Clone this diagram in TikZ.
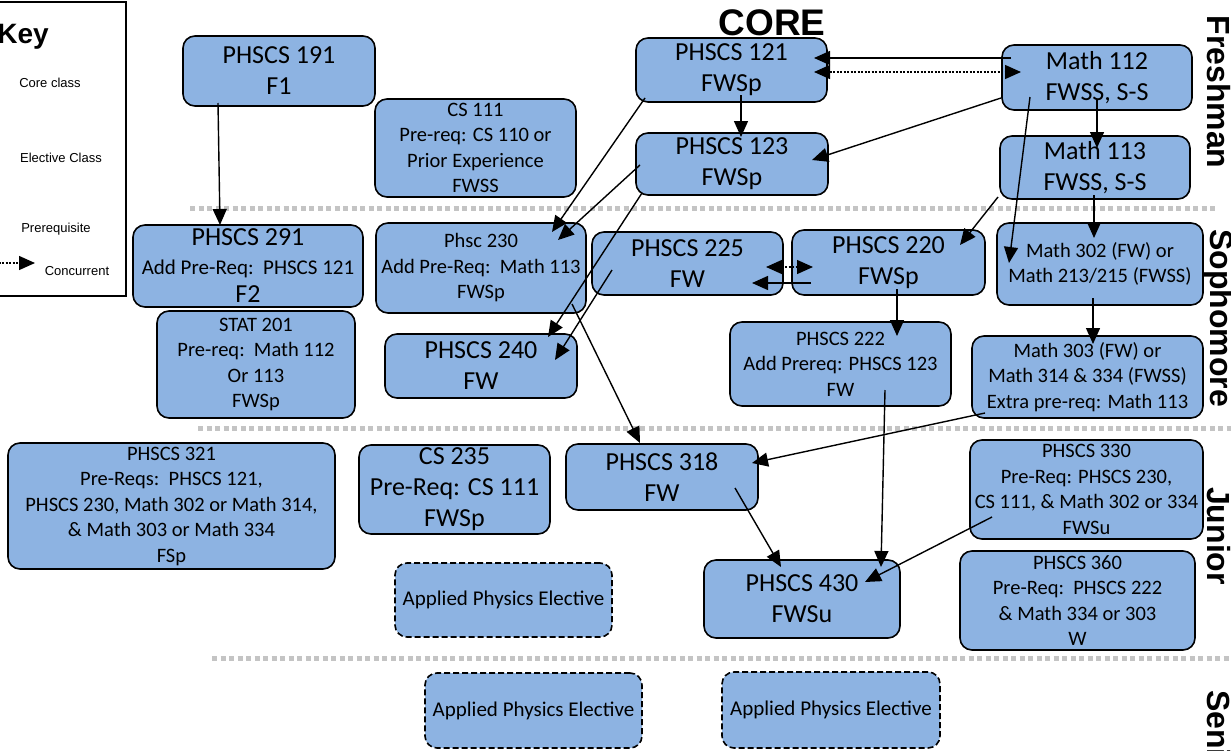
\documentclass[tikz,border=0pt]{standalone}
\usepackage{fontspec}
\setmainfont{Carlito}
\newfontfamily\arialf{Liberation Sans}
\usetikzlibrary{arrows.meta,calc}
\definecolor{boxblue}{HTML}{8DB3E2}
\definecolor{sepgrey}{HTML}{C4C4C4}
\begin{document}
\begin{tikzpicture}[x=1pt,y=-1pt,
 box/.style={draw, line width=1.6pt, fill=boxblue, rounded corners=12pt, align=center, inner sep=0pt},
 big/.style={font=\fontsize{26}{31}\selectfont},
 small/.style={font=\fontsize{20.5}{25.5}\selectfont},
 elect/.style={box, dash pattern=on 6pt off 3pt, font=\fontsize{21}{25}\selectfont},
 arr/.style={line width=1.4pt, -{Triangle[length=16pt,width=14pt]}},
 conc/.style={line width=1.4pt, dash pattern=on 2pt off 1.5pt, {Triangle[length=16pt,width=14pt]}-{Triangle[length=16pt,width=14pt]}},
 conckey/.style={line width=1.4pt, dash pattern=on 2pt off 1.5pt, -{Triangle[length=16pt,width=14pt]}},
 sep/.style={sepgrey, line width=5pt, dash pattern=on 5pt off 3.5pt},
 yearlab/.style={font=\arialf\bfseries\fontsize{32}{32}\selectfont, rotate=-90, inner sep=0pt},
 keytxt/.style={font=\arialf\fontsize{13}{15}\selectfont, inner sep=0pt}
]
\useasboundingbox (0,0) rectangle (1231,750);

% separators
\draw[sep] (190,208) -- (1215,208);
\draw[sep] (198,428) -- (1231,428);
\draw[sep] (212,658) -- (1231,658);

% key
\node[draw, line width=2pt, minimum width=140pt, minimum height=294pt, inner sep=0pt] (keybox) at (56,149) {};
\node[font=\arialf\bfseries\fontsize{28}{28}\selectfont, anchor=base east, inner sep=0pt] (keyt) at (49,43) {Key};
\node[keytxt] (kcore) at (50,83) {Core class};
\node[keytxt] (kelec) at (61,158) {Elective Class};
\node[keytxt] (kpre) at (56,229) {Prerequisite};
\node[keytxt] (kconc) at (77,271) {Concurrent};
\coordinate (k0) at (-5,263);
\coordinate (k1) at (35,263);
\draw[conckey] (k0) -- (k1);

% titles
\node[font=\arialf\bfseries\fontsize{37}{37}\selectfont, inner sep=0pt] (core) at (772,23) {CORE};
\node[yearlab] (fr) at (1219,92) {Freshman};
\node[yearlab] (so) at (1219,318) {Sophomore};
\node[yearlab] (ju) at (1219,536) {Junior};
\node[yearlab, anchor=west] (se) at (1219,690) {Senior};

% freshman
\node[box,big,minimum width=192pt,minimum height=70pt] (n191) at (279,71) {PHSCS 191\\F1};
\node[box,small,minimum width=201pt,minimum height=98pt] (cs111) at (475.5,148) {CS 111\\Pre-req: CS 110 or\\Prior Experience\\FWSS};
\node[box,big,minimum width=191pt,minimum height=64pt] (n121) at (731.5,70) {PHSCS 121\\FWSp};
\node[box,big,minimum width=192pt,minimum height=62pt] (n123) at (732,164) {PHSCS 123\\FWSp};
\node[box,big,minimum width=190pt,minimum height=65pt] (m112) at (1097,77.5) {Math 112\\FWSS, S-S};
\node[box,big,minimum width=190pt,minimum height=63pt] (m113) at (1095,167.5) {Math 113\\FWSS, S-S};

% sophomore
\node[box,font=\fontsize{26}{28.5}\selectfont,minimum width=230pt,minimum height=82pt] (n291) at (248,266) {PHSCS 291\\{\fontsize{21}{25}\selectfont Add Pre-Req:\ \ PHSCS 121}\\F2};
\node[box,small,minimum width=198pt,minimum height=107pt] (stat) at (256,364.5) {STAT 201\\Pre-req:\ \ Math 112\\Or 113\\FWSp};
\node[box,small,minimum width=210pt,minimum height=90pt] (n230) at (481,268) {Phsc 230\\Add Pre-Req:\ \ Math 113\\FWSp};
\node[box,big,minimum width=192pt,minimum height=64pt] (n240) at (481,366) {PHSCS 240\\FW};
\node[box,big,minimum width=191pt,minimum height=63pt] (n225) at (687.5,263.5) {PHSCS 225\\FW};
\node[box,big,minimum width=193pt,minimum height=65pt] (n220) at (888.5,262.5) {PHSCS 220\\FWSp};
\node[box,small,minimum width=206pt,minimum height=82pt] (m302) at (1100,264) {Math 302 (FW) or\\Math 213/215 (FWSS)};
\node[box,small,minimum width=221pt,minimum height=84pt] (n222) at (840.5,364) {PHSCS 222\\Add Prereq: PHSCS 123\\FW};
\node[box,small,minimum width=231pt,minimum height=82pt] (m303) at (1087.5,377) {Math 303 (FW) or\\Math 314 \& 334 (FWSS)\\Extra pre-req: Math 113};

% junior
\node[box,small,minimum width=327pt,minimum height=126pt] (n321) at (171.5,506) {PHSCS 321\\Pre-Reqs:\ \ PHSCS 121,\\PHSCS 230, Math 302 or Math 314,\\\& Math 303 or Math 334\\FSp};
\node[box,big,minimum width=191pt,minimum height=89pt] (cs235) at (454.5,489.5) {CS 235\\Pre-Req: CS 111\\FWSp};
\node[box,big,minimum width=192pt,minimum height=66pt] (n318) at (662,477) {PHSCS 318\\FW};
\node[box,small,minimum width=233pt,minimum height=99pt] (n330) at (1086.5,489.5) {PHSCS 330\\Pre-Req: PHSCS 230,\\CS 111, \& Math 302 or 334\\FWSu};
\node[box,small,minimum width=235pt,minimum height=99pt] (n360) at (1077.5,600.5) {PHSCS 360\\Pre-Req:\ \ PHSCS 222\\\& Math 334 or 303\\W};
\node[box,big,minimum width=196pt,minimum height=78pt] (n430) at (802,599) {PHSCS 430\\FWSu};
\node[elect,minimum width=217pt,minimum height=74pt] (ape1) at (503.5,600) {Applied Physics Elective};

% senior
\node[elect,minimum width=217pt,minimum height=75pt] (ape2) at (533.5,710.5) {Applied Physics Elective};
\node[elect,minimum width=218pt,minimum height=76pt] (ape3) at (831,710) {Applied Physics Elective};

% connectors
\draw[arr] ($(n191)+(-61,32)$) -- ($(n291)+(-28,-41)$);
\draw[arr] ($(m112)+(-86,-19.5)$) -- ($(n121)+(82.5,-12)$);
\draw[conc] ($(n121)+(82.5,2)$) -- ($(m112)+(-76,-5.5)$);
\draw[arr] ($(n121)+(9.5,25)$) -- ($(n123)+(9,-27)$);
\draw[arr] ($(m112)+(-96,20.5)$) -- ($(n123)+(80,-4)$);
\draw[arr] ($(m112)+(0,22.5)$) -- ($(m113)+(2,-19.5)$);
\draw[arr] ($(m112)+(-67,19.5)$) -- ($(m302)+(-91,-1)$);
\draw[arr] ($(m113)+(-97,29.5)$) -- ($(n220)+(71.5,-17.5)$);
\draw[arr] ($(m113)+(-1,27.5)$) -- ($(m302)+(-6,-26)$);
\draw[arr] ($(n121)+(-86.5,28)$) -- ($(n230)+(71,-36)$);
\draw[arr] ($(n123)+(-92,1)$) -- ($(n230)+(77,-28)$);
\draw[arr] ($(n123)+(-90,29)$) -- ($(n240)+(67,-29)$);
\draw[arr] ($(n225)+(-75.5,6.5)$) -- ($(n240)+(74,-6)$);
\draw[arr] ($(n230)+(91,36)$) -- ($(n318)+(-22,-34)$);
\draw[arr] ($(n220)+(-77.5,20.5)$) -- ($(n225)+(64.5,19.5)$);
\draw[conc] ($(n225)+(78.5,3.5)$) -- ($(n220)+(-75.5,4.5)$);
\draw[arr] ($(n220)+(8.5,26.5)$) -- ($(n222)+(56.5,-28)$);
\draw[arr] ($(m302)+(-7,34)$) -- ($(m303)+(5.5,-33)$);
\draw[arr] ($(n222)+(44.5,26)$) -- ($(n430)+(79,-32)$);
\draw[arr] ($(m303)+(-102.5,36)$) -- ($(n318)+(90,-14)$);
\draw[arr] ($(n318)+(73,11)$) -- ($(n430)+(-21,-32)$);
\draw[arr] ($(n330)+(-94.5,27.5)$) -- ($(n430)+(63,-17)$);
\end{tikzpicture}
\end{document}
